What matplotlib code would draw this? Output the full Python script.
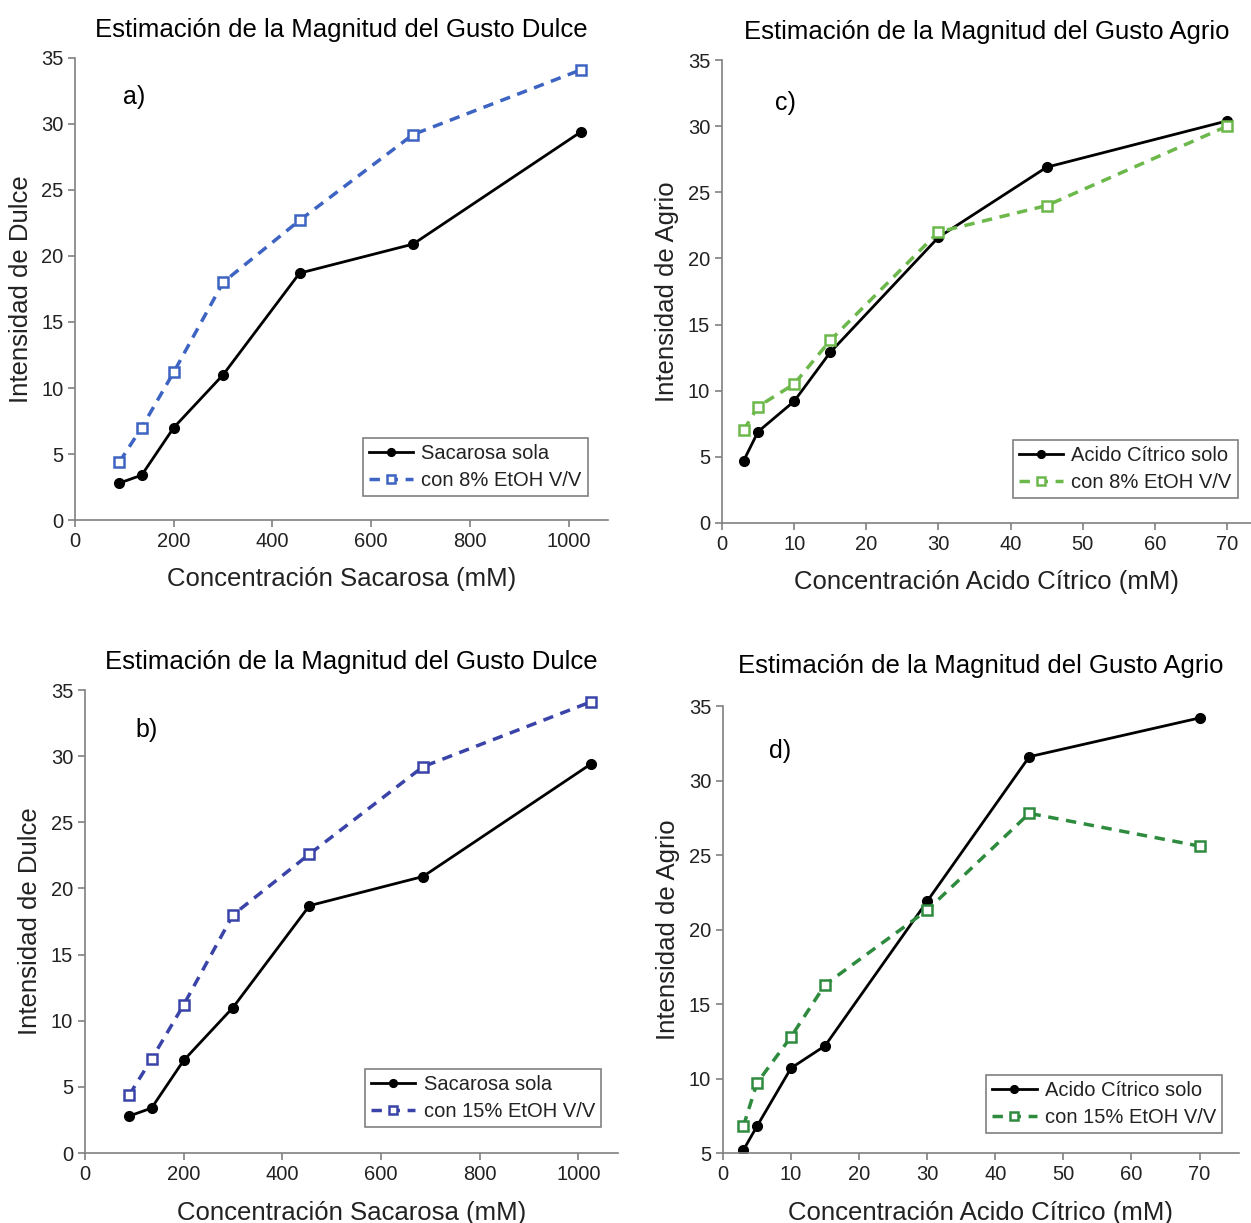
import matplotlib
matplotlib.use('Agg')
import matplotlib.pyplot as plt

plt.rcParams['font.family'] = ['Liberation Sans', 'DejaVu Sans']

# ---- data ----
sacarosa_mM = [90, 135, 200, 300, 455, 685, 1025]
dulce_solo = [2.8, 3.4, 7.0, 11.0, 18.7, 20.9, 29.4]
dulce_8 = [4.4, 7.0, 11.2, 18.0, 22.7, 29.2, 34.1]
dulce_15 = [4.4, 7.1, 11.2, 18.0, 22.6, 29.2, 34.1]

citrico_mM = [3, 5, 10, 15, 30, 45, 70]
agrio_solo_c = [4.7, 6.9, 9.2, 12.9, 21.6, 26.9, 30.4]
agrio_8 = [7.0, 8.8, 10.5, 13.8, 22.0, 24.0, 30.0]
agrio_solo_d = [5.2, 6.8, 10.7, 12.2, 21.9, 31.6, 34.2]
agrio_15 = [6.8, 9.7, 12.8, 16.3, 21.3, 27.8, 25.6]

TXT = '#222222'
SPINE = '#808080'

fig = plt.figure(figsize=(12.51, 12.23), dpi=100)


def panel(rect, x, solo, etoh, color, lab_solo, lab_etoh, title, letter,
          xlabel, ylabel, xlim, xticks, ylim, letter_pos, leg_anchor, title_pad):
    ax = fig.add_axes(rect)
    ax.plot(x, solo, color='black', lw=2, marker='o', ms=7, label=lab_solo)
    ax.plot(x, etoh, color=color, lw=2.5, ls=(0, (3, 2.2)), marker='s', ms=6.5,
            mfc='white', mec=color, mew=1.8, label=lab_etoh)
    ax.set_xlim(*xlim)
    ax.set_ylim(*ylim)
    ax.set_xticks(xticks)
    ax.set_yticks(range(int(ylim[0]), 36, 5))
    for s in ['top', 'right']:
        ax.spines[s].set_visible(False)
    for s in ['left', 'bottom']:
        ax.spines[s].set_color(SPINE)
        ax.spines[s].set_linewidth(1.2)
    ax.tick_params(colors=SPINE, labelcolor=TXT, labelsize=14.5, length=5, width=1.2)
    ax.set_xlabel(xlabel, fontsize=18.5, color=TXT, labelpad=12)
    ax.set_ylabel(ylabel, fontsize=18.5, color=TXT, labelpad=6)
    ax.set_title(title, fontsize=18.5, color='black', pad=title_pad)
    ax.text(letter_pos[0], letter_pos[1], letter, transform=ax.transAxes,
            fontsize=18, color='black', va='center', ha='left')
    leg = ax.legend(loc='lower right', bbox_to_anchor=leg_anchor, fontsize=14.5,
                    fancybox=False, edgecolor=SPINE, framealpha=1,
                    handlelength=2.2, handletextpad=0.4, borderpad=0.3,
                    labelspacing=0.4, markerscale=0.8, borderaxespad=0)
    leg.get_frame().set_linewidth(1.2)
    for t in leg.get_texts():
        t.set_color(TXT)
    return ax


panel([0.060, 0.5748, 0.426, 0.3778], sacarosa_mM, dulce_solo, dulce_8, '#3d64c2',
      'Sacarosa sola', 'con 8% EtOH V/V',
      'Estimación de la Magnitud del Gusto Dulce', 'a)',
      'Concentración Sacarosa (mM)', 'Intensidad de Dulce',
      (0, 1080), range(0, 1001, 200), (0, 35), (0.09, 0.915), (0.962, 0.052), 15)

panel([0.5771, 0.5724, 0.4229, 0.3785], citrico_mM, agrio_solo_c, agrio_8, '#6cb84a',
      'Acido Cítrico solo', 'con 8% EtOH V/V',
      'Estimación de la Magnitud del Gusto Agrio', 'c)',
      'Concentración Acido Cítrico (mM)', 'Intensidad de Agrio',
      (0, 73.3), range(0, 71, 10), (0, 35), (0.1, 0.907), (0.975, 0.054), 15)

panel([0.0679, 0.0572, 0.426, 0.3786], sacarosa_mM, dulce_solo, dulce_15, '#3a44a8',
      'Sacarosa sola', 'con 15% EtOH V/V',
      'Estimación de la Magnitud del Gusto Dulce', 'b)',
      'Concentración Sacarosa (mM)', 'Intensidad de Dulce',
      (0, 1080), range(0, 1001, 200), (0, 35), (0.095, 0.914), (0.968, 0.056), 15)

panel([0.5779, 0.0572, 0.4125, 0.3655], citrico_mM, agrio_solo_d, agrio_15, '#2e8b3e',
      'Acido Cítrico solo', 'con 15% EtOH V/V',
      'Estimación de la Magnitud del Gusto Agrio', 'd)',
      'Concentración Acido Cítrico (mM)', 'Intensidad de Agrio',
      (0, 75.8), range(0, 71, 10), (5, 35), (0.09, 0.90), (0.967, 0.045), 24)

fig.savefig('out.png', dpi=100, facecolor='white')
